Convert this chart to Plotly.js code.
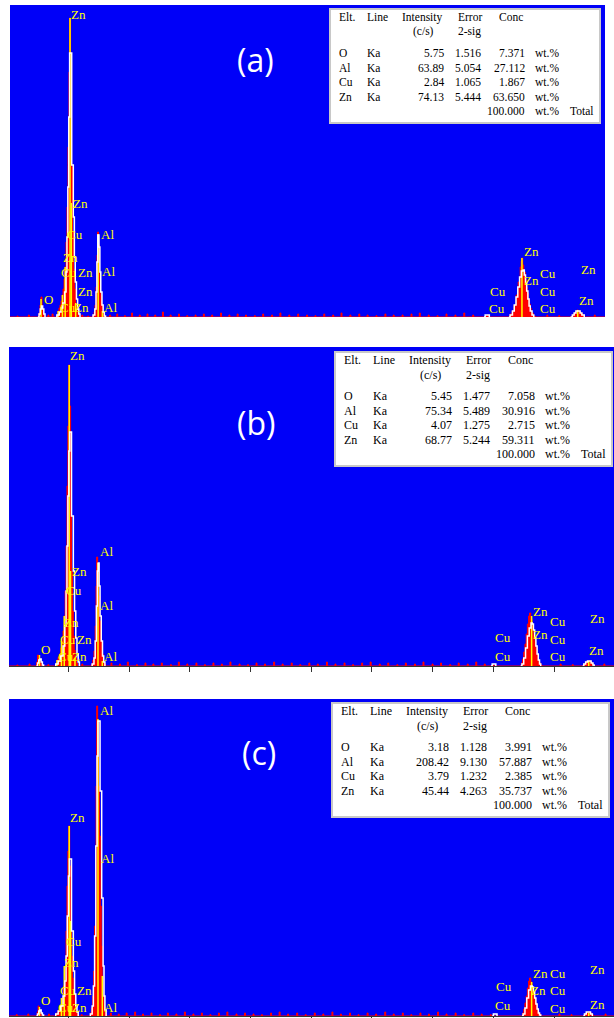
<!DOCTYPE html>
<html><head><meta charset="utf-8">
<script src="https://cdn.plot.ly/plotly-3.0.1.min.js"></script>
<style>html,body{margin:0;padding:0;background:#fff;}#chart{width:614px;height:1018px;}</style>
</head><body><div id="chart"></div>
<script>
// ---------------- DATA (energy keV, counts) ----------------
const panelTags = ['(a)', '(b)', '(c)'];

// Panel (a)
const redA = [[0.47,0],[0.489,12],[0.506,36],[0.523,60],[0.540,24],[0.557,9],[0.574,0],
 [0.776,0],[0.793,6],[0.809,18],[0.826,27],[0.843,36],[0.860,48],[0.877,66],[0.894,84],[0.911,114],[0.927,150],[0.944,225],[0.961,330],[0.978,510],[0.995,735],[1.004,897],[1.021,765],[1.038,450],[1.054,255],[1.071,144],[1.088,84],[1.105,42],[1.122,21],[1.139,9],[1.156,0],
 [1.392,0],[1.400,6],[1.417,15],[1.433,36],[1.450,90],[1.467,186],[1.476,255],[1.492,216],[1.509,135],[1.526,66],[1.543,36],[1.560,18],[1.577,6],[1.594,0],
 [8.02,3],[8.05,6],[8.07,0],
 [8.39,0],[8.432,9],[8.465,18],[8.499,36],[8.533,66],[8.567,105],[8.600,150],[8.617,168],[8.626,177],[8.643,156],[8.660,135],[8.685,114],[8.702,90],[8.718,72],[8.735,54],[8.752,39],[8.769,27],[8.786,12],[8.820,3],[8.854,0],
 [9.44,0],[9.477,6],[9.511,12],[9.545,18],[9.562,21],[9.578,18],[9.612,12],[9.646,6],[9.680,0]];
const whiteA = [
 [[0.47,0],[0.49,9],[0.51,24],[0.53,33],[0.55,24],[0.57,9],[0.59,0]],
 [[0.78,0],[0.79,6],[0.83,15],[0.86,27],[0.89,42],[0.92,75],[0.945,135],[0.96,240],[0.975,390],[0.99,600],[1.005,792],[1.04,456],[1.067,300],[1.085,180],[1.10,105],[1.12,54],[1.14,24],[1.16,9],[1.18,0]],
 [[1.39,0],[1.40,6],[1.43,24],[1.45,75],[1.465,165],[1.48,246],[1.50,210],[1.515,135],[1.53,75],[1.55,36],[1.57,15],[1.59,3],[1.61,0]],
 [[7.99,0],[8.01,6],[8.06,6],[8.08,0]],
 [[8.41,0],[8.43,6],[8.47,18],[8.50,36],[8.53,60],[8.56,90],[8.59,120],[8.62,138],[8.65,141],[8.67,126],[8.69,102],[8.71,78],[8.73,54],[8.75,33],[8.77,18],[8.80,6],[8.83,0]],
 [[9.45,0],[9.48,6],[9.51,12],[9.54,18],[9.58,18],[9.61,12],[9.64,6],[9.68,0]]];
const noiseA = [[0.12,3],[0.31,6],[0.64,6],[0.71,9],[1.21,6],[1.31,3],[1.68,6],[1.80,9],[1.93,4],[2.05,12],[2.18,6],[2.31,9],[2.44,6],[2.57,15],[2.70,6],[2.84,9],[2.98,4],[3.12,6],[3.26,9],[3.40,6],[3.55,12],[3.69,6],[3.83,9],[3.97,6],[4.12,4],[4.26,9],[4.41,6],[4.55,12],[4.70,6],[4.85,9],[5.00,6],[5.14,4],[5.29,9],[5.44,6],[5.58,12],[5.73,6],[5.88,9],[6.02,6],[6.17,4],[6.32,9],[6.46,6],[6.61,6],[6.76,9],[6.90,12],[7.05,6],[7.20,4],[7.35,9],[7.50,6],[7.65,12],[7.80,6],[9.05,6],[9.25,4],[9.85,6]];
const markA = [[0.523,54],[0.811,18],[0.884,66],[0.930,150],[1.012,897],[1.034,342],[1.107,42],[1.486,249],[1.557,18],[8.63,177],[9.57,21]];
const labelA = [['Zn',0.987,909],['Zn',1.020,342],['Cu',0.919,249],['Al',1.492,249],['Zn',0.868,180],['Cu',0.818,135],['Zn',1.105,135],['Al',1.509,138],['Zn',1.105,78],['O',0.531,54],['Cu',0.801,28],['Zn',1.037,28],['Al',1.543,28],
 ['Zn',8.626,198],['Cu',8.896,132],['Zn',9.587,144],['Zn',8.626,111],['Cu',8.06,78],['Cu',8.896,78],['Zn',9.553,51],['Cu',8.043,25],['Cu',8.896,25]];

// Panel (b)
const redB = [[0.46,0],[0.475,12],[0.49,33],[0.505,18],[0.52,15],[0.535,9],[0.55,3],[0.57,0],
 [0.77,0],[0.79,6],[0.81,18],[0.83,27],[0.85,36],[0.87,54],[0.89,75],[0.91,105],[0.93,150],[0.945,225],[0.96,360],[0.975,540],[0.99,720],[1.003,903],[1.02,780],[1.035,480],[1.05,285],[1.065,165],[1.08,90],[1.095,48],[1.11,24],[1.13,9],[1.15,0],
 [1.37,0],[1.38,6],[1.40,18],[1.42,45],[1.44,120],[1.455,240],[1.465,327],[1.48,285],[1.50,210],[1.515,135],[1.53,75],[1.55,36],[1.57,15],[1.59,6],[1.61,0],
 [7.99,3],[8.01,0],
 [8.44,0],[8.46,9],[8.48,21],[8.50,42],[8.52,66],[8.54,96],[8.56,126],[8.58,150],[8.595,159],[8.615,141],[8.635,120],[8.655,96],[8.675,75],[8.695,54],[8.715,33],[8.735,18],[8.755,9],[8.78,3],[8.80,0],
 [9.46,0],[9.49,6],[9.52,12],[9.55,15],[9.58,15],[9.61,9],[9.64,3],[9.66,0]];
const whiteB = [
 [[0.47,0],[0.49,9],[0.51,18],[0.53,21],[0.55,12],[0.57,3],[0.59,0]],
 [[0.78,0],[0.79,6],[0.83,15],[0.87,30],[0.91,60],[0.94,120],[0.96,225],[0.975,360],[0.99,510],[1.005,645],[1.02,702],[1.05,450],[1.08,285],[1.10,165],[1.12,84],[1.14,36],[1.16,12],[1.18,0]],
 [[1.38,0],[1.39,6],[1.42,24],[1.44,75],[1.46,180],[1.475,285],[1.49,309],[1.505,240],[1.52,150],[1.54,75],[1.56,30],[1.58,12],[1.60,0]],
 [[7.96,0],[7.98,6],[8.02,6],[8.04,0]],
 [[8.45,0],[8.47,6],[8.50,24],[8.53,54],[8.56,90],[8.59,114],[8.62,129],[8.64,126],[8.66,108],[8.68,84],[8.70,60],[8.72,36],[8.74,18],[8.76,6],[8.78,0]],
 [[9.47,0],[9.49,6],[9.52,12],[9.55,15],[9.58,15],[9.61,9],[9.64,3],[9.66,0]]];
const noiseB = [[0.15,3],[0.35,6],[0.66,4],[1.22,6],[1.70,9],[1.84,6],[1.97,12],[2.12,4],[2.26,9],[2.39,6],[2.53,9],[2.68,4],[2.81,12],[2.95,6],[3.10,9],[3.24,4],[3.38,9],[3.52,6],[3.66,12],[3.81,6],[3.95,4],[4.09,9],[4.23,6],[4.38,12],[4.52,6],[4.67,9],[4.81,4],[4.96,9],[5.10,6],[5.25,12],[5.39,6],[5.54,9],[5.68,4],[5.83,9],[5.97,12],[6.12,6],[6.26,9],[6.41,4],[6.55,9],[6.70,6],[6.84,12],[6.99,6],[7.13,9],[7.28,4],[7.42,9],[7.57,6],[7.71,12],[7.85,6],[9.10,6],[9.30,4],[9.82,6]];
const markB = [[0.522,33],[0.811,18],[0.884,75],[0.930,150],[1.012,903],[1.034,285],[1.107,24],[1.486,309],[1.557,15],[8.63,150],[9.57,15]];
const labelB = [['Zn',0.984,930],['Al',1.478,343],['Zn',1.017,285],['Cu',0.918,228],['Al',1.478,183],['Zn',0.885,130],['Cu',0.819,81],['Zn',1.099,81],['O',0.522,51],['Cu',0.786,28],['Zn',1.033,28],['Al',1.560,28],
 ['Zn',8.625,165],['Cu',8.905,135],['Zn',9.564,142],['Zn',8.625,96],['Cu',7.993,85],['Cu',8.905,81],['Zn',9.548,48],['Cu',7.993,30],['Cu',8.905,30]];

// Panel (c)
const redC = [[0.47,0],[0.485,12],[0.50,30],[0.515,12],[0.53,9],[0.545,3],[0.56,0],
 [0.78,0],[0.80,9],[0.83,18],[0.86,30],[0.89,54],[0.92,90],[0.945,150],[0.96,255],[0.975,390],[0.99,495],[1.003,570],[1.02,450],[1.035,285],[1.05,180],[1.065,114],[1.08,66],[1.10,36],[1.12,15],[1.14,6],[1.16,0],
 [1.35,0],[1.36,9],[1.38,24],[1.40,60],[1.415,135],[1.43,270],[1.445,480],[1.455,690],[1.465,930],[1.48,885],[1.495,690],[1.51,540],[1.525,330],[1.54,210],[1.555,120],[1.57,60],[1.585,27],[1.60,9],[1.62,0],
 [8.46,0],[8.48,9],[8.50,21],[8.52,39],[8.54,60],[8.56,84],[8.58,105],[8.595,114],[8.615,102],[8.635,87],[8.655,72],[8.675,54],[8.695,39],[8.715,24],[8.735,12],[8.755,6],[8.78,0],
 [9.47,0],[9.50,6],[9.53,9],[9.56,12],[9.59,9],[9.62,3],[9.65,0]];
const whiteC = [
 [[0.47,0],[0.49,6],[0.51,15],[0.53,18],[0.55,9],[0.57,3],[0.59,0]],
 [[0.78,0],[0.79,6],[0.83,15],[0.87,30],[0.91,60],[0.94,105],[0.96,180],[0.98,300],[1.00,420],[1.015,471],[1.05,255],[1.08,135],[1.10,66],[1.12,30],[1.14,12],[1.16,0]],
 [[1.35,0],[1.36,6],[1.39,30],[1.41,90],[1.43,240],[1.45,510],[1.47,780],[1.485,885],[1.52,675],[1.547,354],[1.57,150],[1.585,60],[1.60,18],[1.62,0]],
 [[7.98,0],[8.00,6],[8.04,6],[8.06,0]],
 [[8.47,0],[8.49,6],[8.52,24],[8.55,54],[8.58,78],[8.61,90],[8.64,87],[8.66,72],[8.68,54],[8.70,36],[8.72,21],[8.74,9],[8.76,3],[8.78,0]],
 [[9.48,0],[9.50,6],[9.53,12],[9.57,12],[9.60,6],[9.63,0]]];
const noiseC = [[0.14,4],[0.33,6],[0.67,6],[1.21,4],[1.69,9],[1.82,6],[1.95,9],[2.09,12],[2.22,6],[2.36,9],[2.50,4],[2.63,9],[2.77,6],[2.91,12],[3.05,6],[3.19,9],[3.33,4],[3.47,9],[3.61,12],[3.76,6],[3.90,9],[4.04,6],[4.18,4],[4.33,9],[4.47,12],[4.61,6],[4.76,9],[4.90,4],[5.05,9],[5.19,6],[5.34,12],[5.48,6],[5.63,9],[5.77,4],[5.92,9],[6.06,6],[6.21,12],[6.35,6],[6.50,9],[6.64,4],[6.79,9],[6.93,6],[7.08,12],[7.22,6],[7.37,9],[7.51,4],[7.66,9],[7.80,6],[7.95,4],[9.08,6],[9.28,4],[9.84,6]];
const markC = [[0.522,27],[0.884,54],[0.930,150],[1.012,570],[1.034,285],[1.486,891],[1.557,120],[8.63,102],[9.57,9]];
const labelC = [['Al',1.478,918],['Zn',0.984,597],['Al',1.495,472],['Cu',0.918,225],['Zn',0.885,160],['Cu',0.819,78],['Zn',1.099,78],['O',0.522,48],['Cu',0.786,25],['Zn',1.033,25],['Al',1.560,25],
 ['Zn',8.625,129],['Cu',8.905,129],['Zn',9.564,141],['Cu',8.01,90],['Zn',8.592,78],['Cu',8.905,78],['Zn',9.564,36],['Cu',7.993,33],['Cu',8.905,24]];

// Quantification tables
const tableHead1 = ['Elt.', 'Line', 'Intensity', 'Error', 'Conc'];
const tableHead2 = ['(c/s)', '2-sig'];
const elements = ['O', 'Al', 'Cu', 'Zn'];
const xrayLines = ['Ka', 'Ka', 'Ka', 'Ka'];
const intensA = ['5.75', '63.89', '2.84', '74.13'];
const errorA = ['1.516', '5.054', '1.065', '5.444'];
const concA = ['7.371', '27.112', '1.867', '63.650'];
const intensB = ['5.45', '75.34', '4.07', '68.77'];
const errorB = ['1.477', '5.489', '1.275', '5.244'];
const concB = ['7.058', '30.916', '2.715', '59.311'];
const intensC = ['3.18', '208.42', '3.79', '45.44'];
const errorC = ['1.128', '9.130', '1.232', '4.263'];
const concC = ['3.991', '57.887', '2.385', '35.737'];
const totalConc = '100.000';
const concUnit = 'wt.%';
const totalLabel = 'Total';

// ---------------- BUILD ----------------
const W = 614, H = 1018;
const px = x => x / W, py = y => 1 - y / H;

const panels = [
  {red: redA, white: whiteA, noise: noiseA, mark: markA, label: labelA, intens: intensA, err: errorA, conc: concA,
   xdom: [10, 605], ydom: [5, 317], xr: [0, 10.03], yr: [0, 936], box: [330, 9, 270], tag: [255, 60], tfs: 11.5, ticks: false},
  {red: redB, white: whiteB, noise: noiseB, mark: markB, label: labelB, intens: intensB, err: errorB, conc: concB,
   xdom: [9, 614], ydom: [347, 666], xr: [0.02, 9.987], yr: [0, 957], box: [335, 352, 277], tag: [256, 422], tfs: 12, ticks: true},
  {red: redC, white: whiteC, noise: noiseC, mark: markC, label: labelC, intens: intensC, err: errorC, conc: concC,
   xdom: [9, 614], ydom: [699, 1016], xr: [0.02, 9.987], yr: [0, 951], box: [332, 703, 277], tag: [259, 752], tfs: 12, ticks: true}
];

const traces = [];
const layout = {
  width: W, height: H, margin: {l: 0, r: 0, t: 0, b: 0},
  paper_bgcolor: '#ffffff', plot_bgcolor: '#0000f8', showlegend: false,
  annotations: [], shapes: []
};
const yellow = '#ffff00';

panels.forEach((p, i) => {
  const sfx = i === 0 ? '' : String(i + 1);
  const xa = 'x' + sfx, ya = 'y' + sfx;
  // red spectrum incl. baseline noise
  let pts = p.red.slice();
  p.noise.forEach(([e, c]) => { pts.push([e, c]); pts.push([e + 0.016, 0]); });
  pts.push([p.xr[0], 0]); pts.push([p.xr[1], 0]);
  pts.sort((a, b) => a[0] - b[0]);
  traces.push({x: pts.map(d => d[0]), y: pts.map(d => d[1]), xaxis: xa, yaxis: ya, type: 'scatter', mode: 'lines',
    line: {shape: 'hv', color: '#ff0000', width: 1}, fill: 'tozeroy', fillcolor: '#ff0000', hoverinfo: 'skip'});
  // yellow element marker lines
  const mx = [], my = [];
  p.mark.forEach(([e, c]) => { mx.push(e, e, null); my.push(0, c, null); });
  traces.push({x: mx, y: my, xaxis: xa, yaxis: ya, type: 'scatter', mode: 'lines',
    line: {color: yellow, width: 1.5}, hoverinfo: 'skip'});
  // white outline
  const wx = [], wy = [];
  p.white.forEach(seg => { seg.forEach(([e, c]) => { wx.push(e); wy.push(c); }); wx.push(null); wy.push(null); });
  traces.push({x: wx, y: wy, xaxis: xa, yaxis: ya, type: 'scatter', mode: 'lines', connectgaps: false,
    line: {shape: 'hv', color: '#ffffff', width: 1.5}, hoverinfo: 'skip'});

  layout['xaxis' + sfx] = {domain: [px(p.xdom[0]), px(p.xdom[1])], range: p.xr, anchor: ya,
    showgrid: false, zeroline: false, showticklabels: false, fixedrange: true,
    ticks: p.ticks ? 'outside' : '', ticklen: 5, tickcolor: '#333', tick0: 0, dtick: 1,
    showline: p.ticks, linecolor: '#333', linewidth: 1};
  layout['yaxis' + sfx] = {domain: [py(p.ydom[1]), py(p.ydom[0])], range: p.yr, anchor: xa,
    showgrid: false, zeroline: false, showticklabels: false, ticks: '', fixedrange: true};

  // element labels
  p.label.forEach(([t, e, c]) => layout.annotations.push({x: e, y: c, xref: xa, yref: ya, text: t, showarrow: false,
    xanchor: 'left', yanchor: 'middle', font: {family: 'Liberation Serif, serif', size: 13, color: yellow}}));

  // panel tag
  layout.annotations.push({x: px(p.tag[0]), y: py(p.tag[1]), xref: 'paper', yref: 'paper', text: panelTags[i], showarrow: false,
    xanchor: 'center', yanchor: 'middle', font: {family: 'Open Sans, sans-serif', size: 32, color: '#ffffff'}});

  // table box
  const [bl, bt, bw] = p.box, bh = 114, k = bw / 277;
  layout.shapes.push({type: 'rect', xref: 'paper', yref: 'paper', x0: px(bl), x1: px(bl + bw), y0: py(bt + bh), y1: py(bt),
    fillcolor: '#ffffff', line: {color: '#c8c8c8', width: 2}});
  const tf = {family: 'Liberation Serif, serif', size: p.tfs, color: '#000000'};
  const cell = (t, x, y, anchor) => layout.annotations.push({x: px(bl + x * k), y: py(bt + y), xref: 'paper', yref: 'paper',
    text: t, showarrow: false, xanchor: anchor, yanchor: 'middle', font: tf, borderpad: 0});
  const hx = [8, 37, 73, 130, 172];
  tableHead1.forEach((t, j) => cell(t, hx[j], 8, 'left'));
  cell(tableHead2[0], 84, 22.5, 'left');
  cell(tableHead2[1], 130, 22.5, 'left');
  const rowY = [44, 58.5, 73, 87.5];
  elements.forEach((el, r) => {
    cell(el, 8, rowY[r], 'left');
    cell(xrayLines[r], 37, rowY[r], 'left');
    cell(p.intens[r], 118, rowY[r], 'right');
    cell(p.err[r], 156, rowY[r], 'right');
    cell(p.conc[r], 201, rowY[r], 'right');
    cell(concUnit, 209, rowY[r], 'left');
  });
  cell(totalConc, 201, 102, 'right');
  cell(concUnit, 209, 102, 'left');
  cell(totalLabel, 245, 102, 'left');
});

Plotly.newPlot('chart', traces, layout, {staticPlot: true, displayModeBar: false});
</script>
</body></html>
